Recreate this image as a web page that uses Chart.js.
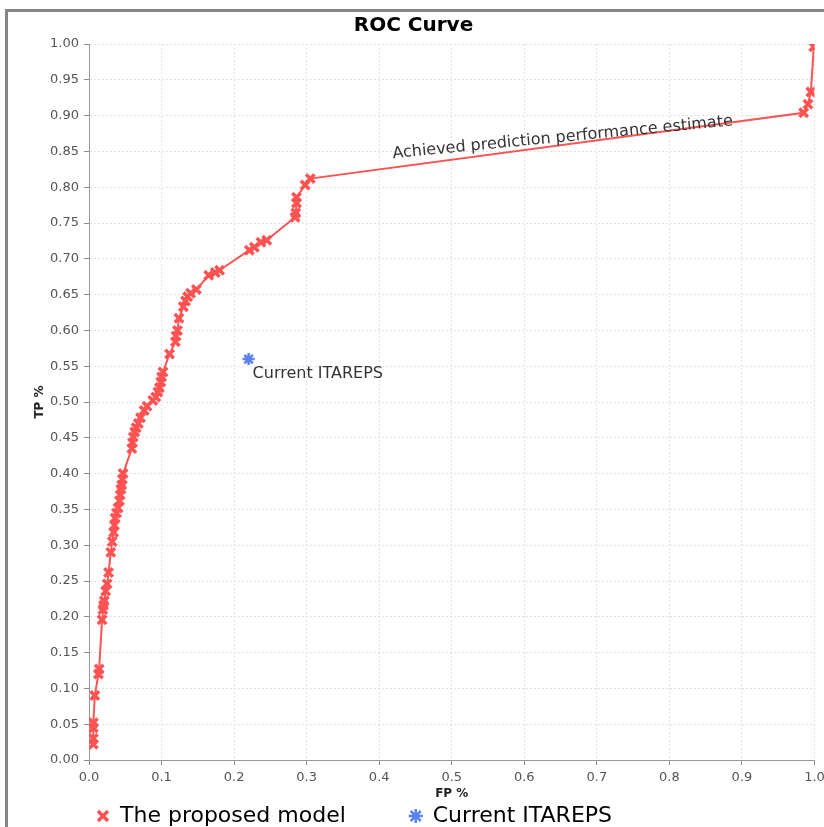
<!DOCTYPE html>
<html>
<head>
<meta charset="utf-8">
<title>ROC Curve</title>
<script src="https://cdn.jsdelivr.net/npm/chart.js@4/dist/chart.umd.min.js"></script>
<style>
  body { margin: 0; background: #fff; }
  #frame { position: absolute; left: 5px; top: 9px; width: 900px; height: 900px;
           border-left: 3px solid #858585; border-top: 3px solid #858585; }
  #rocChart { position: absolute; left: 0; top: 0; }
</style>
</head>
<body>
<div id="frame"></div>
<canvas id="rocChart" width="824" height="827"></canvas>
<script>
// Proposed model ROC points (false positive rate / true positive rate)
const modelFP = [0.006, 0.006, 0.006, 0.006, 0.008, 0.013, 0.014, 0.018, 0.019, 0.020,
  0.021, 0.023, 0.025, 0.027, 0.030, 0.032, 0.034, 0.035, 0.036, 0.038,
  0.040, 0.042, 0.043, 0.044, 0.045, 0.046, 0.047, 0.059, 0.060, 0.061,
  0.063, 0.065, 0.068, 0.071, 0.076, 0.080, 0.088, 0.092, 0.095, 0.097,
  0.099, 0.100, 0.102, 0.111, 0.119, 0.120, 0.122, 0.124, 0.130, 0.133,
  0.136, 0.140, 0.148, 0.165, 0.174, 0.180, 0.221, 0.228, 0.237, 0.245,
  0.284, 0.285, 0.286, 0.286, 0.298, 0.305, 0.985, 0.991, 0.995, 0.999];
const modelTP = [0.022, 0.030, 0.045, 0.052, 0.090, 0.120, 0.127, 0.196, 0.210, 0.216,
  0.222, 0.236, 0.246, 0.262, 0.290, 0.305, 0.318, 0.328, 0.338, 0.345,
  0.352, 0.362, 0.370, 0.378, 0.384, 0.392, 0.400, 0.435, 0.443, 0.451,
  0.458, 0.464, 0.470, 0.478, 0.488, 0.494, 0.502, 0.507, 0.514, 0.520,
  0.528, 0.535, 0.542, 0.567, 0.584, 0.592, 0.600, 0.617, 0.633, 0.641,
  0.647, 0.652, 0.657, 0.677, 0.681, 0.684, 0.712, 0.716, 0.723, 0.726,
  0.758, 0.764, 0.778, 0.786, 0.803, 0.812, 0.904, 0.916, 0.933, 0.996];

// Current system, single point
const currentFP = [0.22];
const currentTP = [0.56];

const seriesNames = ['The proposed model', 'Current ITAREPS'];
const xTickLabels = ['0.0', '0.1', '0.2', '0.3', '0.4', '0.5', '0.6', '0.7', '0.8', '0.9', '1.0'];
const yTickLabels = ['0.00', '0.05', '0.10', '0.15', '0.20', '0.25', '0.30', '0.35', '0.40', '0.45',
  '0.50', '0.55', '0.60', '0.65', '0.70', '0.75', '0.80', '0.85', '0.90', '0.95', '1.00'];

const curveNote = 'Achieved prediction performance estimate';
const curveNoteAt = [0.419, 0.8406];

const modelPoints = modelFP.map((fp, i) => ({ x: fp, y: modelTP[i] }));
const currentPoints = currentFP.map((fp, i) => ({ x: fp, y: currentTP[i] }));

const font = '"DejaVu Sans", sans-serif';

// draws the two text notes inside the plot
const noteLabels = {
  id: 'noteLabels',
  afterDatasetsDraw(chart) {
    const { ctx, scales: { x, y } } = chart;
    ctx.save();
    ctx.font = '16px ' + font;
    ctx.fillStyle = '#333';
    ctx.textAlign = 'left';
    ctx.textBaseline = 'alphabetic';
    ctx.save();
    ctx.translate(x.getPixelForValue(curveNoteAt[0]), y.getPixelForValue(curveNoteAt[1]));
    ctx.rotate(-5.5 * Math.PI / 180);
    ctx.fillText(curveNote, 0, 0);
    ctx.restore();
    const px = x.getPixelForValue(currentFP[0]);
    const py = y.getPixelForValue(currentTP[0]);
    ctx.fillText(seriesNames[1], px + 4, py + 19);
    ctx.restore();
  }
};

const fixBox = (w, h) => scale => {
  if (w !== null) scale.width = w;
  if (h !== null) scale.height = h;
  scale.paddingLeft = 0; scale.paddingRight = 0;
  scale.paddingTop = 0; scale.paddingBottom = 0;
};

new Chart(document.getElementById('rocChart'), {
  type: 'scatter',
  data: {
    datasets: [{
      label: seriesNames[0],
      data: modelPoints,
      showLine: true,
      tension: 0,
      borderColor: '#ff5252',
      backgroundColor: '#ff5252',
      borderWidth: 2,
      pointStyle: 'crossRot',
      pointRadius: 6,
      pointBorderWidth: 3.5,
      pointBorderColor: '#ff5252'
    }, {
      label: seriesNames[1],
      data: currentPoints,
      showLine: false,
      borderColor: '#5b80f0',
      backgroundColor: '#5b80f0',
      borderWidth: 2,
      pointStyle: 'star',
      pointRadius: 6,
      pointBorderWidth: 2.5
    }]
  },
  options: {
    responsive: false,
    animation: false,
    devicePixelRatio: 1,
    layout: { padding: { top: 14, left: 8, right: 5, bottom: -10 } },
    plugins: {
      title: {
        display: true,
        text: 'ROC Curve',
        color: '#000',
        font: { family: font, size: 20, weight: 'bold' },
        padding: { top: 0, bottom: 6 }
      },
      legend: {
        position: 'bottom',
        align: 'start',
        fullSize: false,
        labels: {
          usePointStyle: true,
          boxWidth: 12,
          boxHeight: 10,
          padding: 8,
          color: '#000',
          font: { family: font, size: 22 },
          generateLabels(chart) {
            const items = Chart.defaults.plugins.legend.labels.generateLabels(chart);
            items[0].text = items[0].text + '        ';
            return items;
          }
        }
      },
      tooltip: { enabled: false }
    },
    scales: {
      x: {
        type: 'linear',
        min: 0, max: 1,
        afterFit: fixBox(null, 37),
        ticks: {
          stepSize: 0.1,
          padding: 5,
          color: '#555',
          font: { family: font, size: 13 },
          callback: (v, i) => xTickLabels[i]
        },
        grid: { color: '#e2e2e2', tickColor: '#888', tickLength: 5, tickBorderDash: [] },
        border: { color: '#999', dash: [2, 2] },
        title: { display: true, text: 'FP %', color: '#222', font: { family: font, size: 12, weight: 'bold' }, padding: { top: 0, bottom: -4 } }
      },
      y: {
        type: 'linear',
        min: 0, max: 1,
        afterFit: fixBox(81, null),
        ticks: {
          stepSize: 0.05,
          padding: 5,
          color: '#555',
          font: { family: font, size: 13 },
          callback: (v, i) => yTickLabels[i]
        },
        grid: { color: '#e2e2e2', tickColor: '#888', tickLength: 5, tickBorderDash: [] },
        border: { color: '#999', dash: [2, 2] },
        title: { display: true, text: 'TP %', color: '#222', font: { family: font, size: 12, weight: 'bold' }, padding: { top: 25, bottom: 0 } }
      }
    }
  },
  plugins: [noteLabels]
});
</script>
</body>
</html>
